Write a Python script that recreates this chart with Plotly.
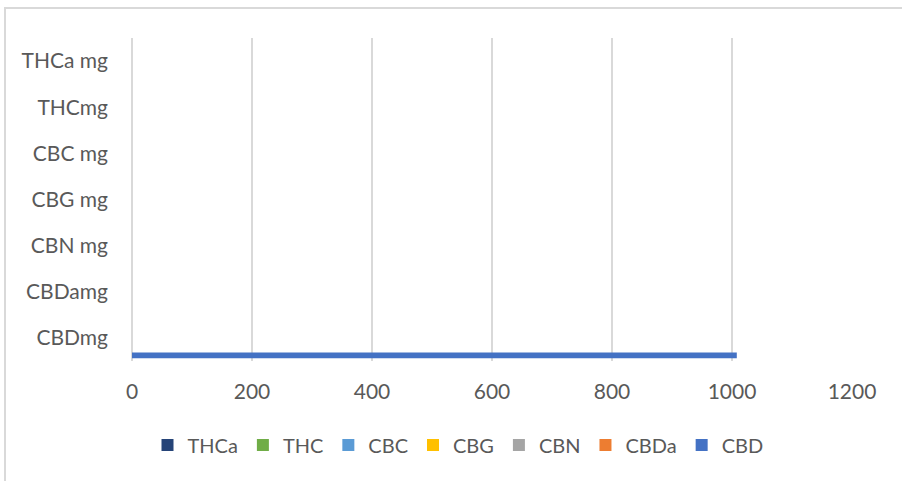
import plotly.graph_objects as go

categories = ["CBDmg", "CBDamg", "CBN mg", "CBG mg", "CBC mg", "THCmg", "THCa mg"]
series_names = ["CBD", "CBDa", "CBN", "CBG", "CBC", "THC", "THCa"]
cbd = [1008, 0, 0, 0, 0, 0, 0]
cbda = [0, 0, 0, 0, 0, 0, 0]
cbn = [0, 0, 0, 0, 0, 0, 0]
cbg = [0, 0, 0, 0, 0, 0, 0]
cbc = [0, 0, 0, 0, 0, 0, 0]
thc = [0, 0, 0, 0, 0, 0, 0]
thca = [0, 0, 0, 0, 0, 0, 0]
values = [cbd, cbda, cbn, cbg, cbc, thc, thca]
colors = ["#4472C4", "#ED7D31", "#A5A5A5", "#FFC000", "#5B9BD5", "#70AD47", "#264478"]
x_ticks = [0, 200, 400, 600, 800, 1000, 1200]

W, H = 902, 481
L, R, T, B = 132, 50, 38, 120
pw, ph = W - L - R, H - T - B

FONT = "Lato, Open Sans, sans-serif"

fig = go.Figure()
for name, vals, col in zip(series_names, values, colors):
    fig.add_trace(go.Bar(
        y=categories, x=vals, name=name, orientation="h",
        marker=dict(color=col, line=dict(width=0)),
    ))


def px(xp):
    return (xp - L) / pw


def py(yp):
    return (T + ph - yp) / ph


fig.update_layout(
    width=W, height=H,
    margin=dict(l=L, r=R, t=T, b=B, autoexpand=False),
    paper_bgcolor="white", plot_bgcolor="white",
    barmode="group", bargap=0.12, bargroupgap=0,
    font=dict(family=FONT, size=21, color="#595959"),
    xaxis=dict(
        range=[0, 1200], tickvals=x_ticks, showgrid=True, gridcolor="#D9D9D9", gridwidth=2,
        zeroline=True, zerolinecolor="#D9D9D9", zerolinewidth=2, showline=False,
        ticks="", ticklabelstandoff=16, tickfont=dict(family=FONT, size=21, color="#595959"),
        automargin=False, fixedrange=True,
    ),
    yaxis=dict(
        categoryorder="array", categoryarray=categories, showgrid=False, showline=False,
        ticks="", ticklabelstandoff=23, tickfont=dict(family=FONT, size=21, color="#595959"),
        automargin=False, fixedrange=True,
    ),
    legend=dict(
        orientation="h", traceorder="reversed", x=px(458), xanchor="center",
        y=py(445), yanchor="middle",
        font=dict(family=FONT, size=20, color="#595959"), itemwidth=30,
    ),
    showlegend=True,
)

# chart area border (top and left edges visible in the crop)
fig.add_shape(type="line", xref="paper", yref="paper",
              x0=px(4), x1=px(902), y0=py(8), y1=py(8),
              line=dict(color="#D9D9D9", width=2))
fig.add_shape(type="line", xref="paper", yref="paper",
              x0=px(5), x1=px(5), y0=py(8), y1=py(481),
              line=dict(color="#D9D9D9", width=2))

fig.write_html("out.html", config={"displayModeBar": False},
               post_script="document.body.style.margin='0';")
